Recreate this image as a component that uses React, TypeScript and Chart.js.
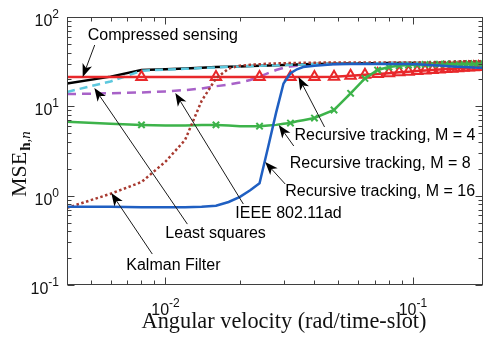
import React, { useEffect, useRef } from "react";
import { Chart, registerables } from "chart.js";
Chart.register(...registerables);

// Angular velocity (rad/time-slot)
const X = [0.004, 0.006, 0.008, 0.010, 0.012, 0.014, 0.016, 0.018, 0.020, 0.022, 0.024, 0.026, 0.028, 0.030, 0.032, 0.034, 0.036,
  0.040, 0.048, 0.056, 0.064, 0.072, 0.080, 0.088, 0.096, 0.104, 0.112, 0.120, 0.128, 0.136, 0.144, 0.152, 0.160, 0.168, 0.176, 0.184, 0.192];

const COMPRESSED = [18, 21.5, 25.5, 26, 26.5, 27, 27.5, 27.8, 28, 28.2, 28.5, 28.7, 28.9, 29.1, 29.3, 29.4, 29.5,
  29.7, 30, 30.2, 30.3, 30.4, 30.5, 30.5, 30.5, 30.5, 30.4, 30.3, 30.2, 30.1, 30, 29.9, 29.8, 29.7, 29.6, 29.5, 29.4];
const LEAST_SQUARES = [14.5, 19, 25, 25.8, 26.3, 26.8, 27.3, 27.7, 27.9, 28.1, 28.4, 28.6, 28.8, 29, 29.2, 29.3, 29.4,
  29.6, 29.9, 30.1, 30.2, 30.3, 30.4, 30.4, 30.4, 30.4, 30.3, 30.2, 30.1, 30, 29.9, 29.8, 29.7, 29.6, 29.5, 29.4, 29.3];
const IEEE = [13.7, 14.0, 14.3, 14.7, 15.2, 15.8, 16.8, 17.5, 18.5, 19.7, 21.5, 23.5, 25.5, 27, 28, 28.5, 29,
  29.4, 29.8, 30, 30.1, 30.2, 30.3, 30.3, 30.3, 30.3, 30.2, 30.1, 30, 29.9, 29.8, 29.7, 29.6, 29.5, 29.4, 29.3, 29.2];
const KALMAN = [0.73, 1.05, 1.42, 2.4, 4.2, 11.5, 20.5, 26.5, 28.5, 29.2, 29.6, 30, 30.2, 30.4, 30.5, 30.6, 30.7,
  30.8, 31, 31, 31, 31, 31, 31, 31, 31, 31, 31, 31.2, 31.4, 31.6, 31.8, 32, 32, 32, 32, 32];
const RT_M4 = [21.3, 21.3, 21.3, 21.3, 21.3, 21.3, 21.3, 21.3, 21.3, 21.3, 21.3, 21.3, 21.3, 21.3, 21.3, 21.3, 21.3,
  21.3, 21.5, 22, 22.5, 23, 23.5, 24, 24.4, 24.8, 25.2, 25.5, 25.8, 26.1, 26.4, 26.7, 27, 27.2, 27.4, 27.6, 27.8];
const RT_M8 = [6.7, 6.4, 6.2, 6.1, 6.1, 6.2, 6.2, 6.1, 6.0, 6.0, 6.0, 6.1, 6.2, 6.4, 6.5, 6.8, 7.0,
  7.4, 9.1, 14, 20.5, 25.5, 27.5, 28.5, 29, 29.3, 29.5, 29.6, 29.7, 29.8, 29.8, 29.9, 29.9, 30, 30, 30, 30];
const RT_M16 = [0.75, 0.75, 0.74, 0.74, 0.74, 0.75, 0.77, 0.85, 0.97, 1.15, 1.38, 3.5, 8.5, 18, 23.5, 26, 27.5,
  28.5, 29.5, 29.7, 29.8, 29.8, 29.8, 29.8, 29.7, 29.5, 29.2, 28.9, 28.6, 28.3, 28, 27.8, 27.6, 27.4, 27.2, 27.1, 27];

const MARKER_STEP = 0.008;

const X_TICKS = [0.01, 0.1];
const Y_TICKS = [0.1, 1, 10, 100];
const X_MIN = 0.004, X_MAX = 0.192, Y_MIN = 0.1, Y_MAX = 100;

const X_TITLE = "Angular velocity (rad/time-slot)";
const Y_TITLE = "MSE";
const Y_TITLE_SUB_BOLD = "h";
const Y_TITLE_SUB_REST = ",n";

const ANNOTATION_TEXT = ["Compressed sensing", "Least squares", "IEEE 802.11ad", "Kalman Filter",
  "Recursive tracking, M = 4", "Recursive tracking, M = 8", "Recursive tracking, M = 16"];
const ANNOTATION_TIP_X = [0.00463, 0.00516, 0.01096, 0.00604, 0.0345, 0.0287, 0.0253];
const ANNOTATION_TIP_Y = [21.3, 16.0, 14.1, 1.07, 21.3, 6.18, 2.38];
// layout: [text dx, text dy (center), line start dx, line start dy] relative to the arrow tip, in px
const ANNOTATION_LAYOUT = [[5, -42, 12, -32], [71, 144, 93, 136], [60, 119, 68, 111], [15, 71, 41, 61],
  [-4, 58, 26, 50], [11, 37, 15, 21], [20, 28, 20, 22]];

const SANS = "'Liberation Sans', Arial, Helvetica, sans-serif";
const SERIF = "'Liberation Serif', 'Times New Roman', serif";

function isMarker(i: number) {
  const v = X[i] / MARKER_STEP;
  return Math.abs(v - Math.round(v)) < 1e-6;
}

const decorations = {
  id: "decorations",
  afterDatasetsDraw(chart: any) {
    const { ctx, chartArea: a, scales } = chart;
    const xs = scales.x, ys = scales.y;
    ctx.save();
    // frame
    const L = Math.round(a.left) + 0.5, R = Math.round(a.right) - 0.5, T = Math.round(a.top) + 0.5, B = Math.round(a.bottom) - 0.5;
    ctx.strokeStyle = "#3f3f3f";
    ctx.lineWidth = 1;
    ctx.strokeRect(L, T, R - L, B - T);
    // ticks
    ctx.beginPath();
    for (let d = -4; d <= 0; d++) {
      for (let m = 1; m <= 9; m++) {
        const v = m * Math.pow(10, d);
        const len = m === 1 ? 7 : 4;
        if (v >= X_MIN * 0.999 && v <= X_MAX * 1.001) {
          const px = Math.round(xs.getPixelForValue(v)) + 0.5;
          ctx.moveTo(px, B); ctx.lineTo(px, B - len);
          ctx.moveTo(px, T); ctx.lineTo(px, T + len);
        }
      }
    }
    for (let d = -1; d <= 2; d++) {
      for (let m = 1; m <= 9; m++) {
        const v = m * Math.pow(10, d);
        if (v > Y_MAX * 1.001) continue;
        const len = m === 1 ? 7 : 4;
        const py = Math.round(ys.getPixelForValue(v)) + 0.5;
        ctx.moveTo(L, py); ctx.lineTo(L + len, py);
        ctx.moveTo(R, py); ctx.lineTo(R - len, py);
      }
    }
    ctx.stroke();

    // tick labels
    ctx.fillStyle = "#111";
    const baseFont = "16px " + SANS, expFont = "12px " + SANS;
    Y_TICKS.forEach((v) => {
      const e = String(Math.round(Math.log10(v)));
      const py = ys.getPixelForValue(v);
      ctx.font = expFont;
      const we = ctx.measureText(e).width;
      const right = a.left - 8;
      ctx.textAlign = "left";
      ctx.textBaseline = "alphabetic";
      ctx.fillText(e, right - we, py + 1);
      ctx.font = baseFont;
      const wb = ctx.measureText("10").width;
      ctx.fillText("10", right - we - wb, py + 9);
    });
    X_TICKS.forEach((v) => {
      const e = String(Math.round(Math.log10(v)));
      const px = xs.getPixelForValue(v);
      ctx.font = expFont;
      const we = ctx.measureText(e).width;
      ctx.font = baseFont;
      const wb = ctx.measureText("10").width;
      const start = px - (wb + we) / 2;
      ctx.textAlign = "left";
      ctx.fillText("10", start, a.bottom + 30);
      ctx.font = expFont;
      ctx.fillText(e, start + wb, a.bottom + 22);
    });

    // x title
    ctx.font = "22px " + SERIF;
    const tw = ctx.measureText(X_TITLE).width;
    const size = 22 * 285 / tw;
    ctx.font = size.toFixed(2) + "px " + SERIF;
    ctx.textAlign = "center";
    ctx.fillText(X_TITLE, 284, 328);

    // y title
    ctx.save();
    ctx.translate(26, 197);
    ctx.rotate(-Math.PI / 2);
    ctx.textAlign = "left";
    ctx.font = "22px " + SERIF;
    ctx.fillText(Y_TITLE, 0, 0);
    let w = ctx.measureText(Y_TITLE).width + 1;
    ctx.font = "bold 15px " + SERIF;
    ctx.fillText(Y_TITLE_SUB_BOLD, w, 4);
    w += ctx.measureText(Y_TITLE_SUB_BOLD).width;
    ctx.font = "italic 15px " + SERIF;
    ctx.fillText(Y_TITLE_SUB_REST, w, 4);
    ctx.restore();

    // annotations
    ctx.font = "16px " + SANS;
    ctx.textAlign = "left";
    ctx.strokeStyle = "#1a1a1a";
    ctx.fillStyle = "#000";
    ANNOTATION_TEXT.forEach((t, i) => {
      const tx = xs.getPixelForValue(ANNOTATION_TIP_X[i]);
      const ty = ys.getPixelForValue(ANNOTATION_TIP_Y[i]);
      const [dx, dy, lx, ly] = ANNOTATION_LAYOUT[i];
      const sx = tx + lx, sy = ty + ly;
      const ang = Math.atan2(ty - sy, tx - sx);
      const c = Math.cos(ang), s = Math.sin(ang);
      const HL = 13, HW = 5, N = 3.5;
      ctx.lineWidth = 1;
      ctx.beginPath();
      ctx.moveTo(sx, sy);
      ctx.lineTo(tx - (HL - N) * c, ty - (HL - N) * s);
      ctx.stroke();
      ctx.beginPath();
      ctx.moveTo(tx, ty);
      ctx.lineTo(tx - HL * c + HW * s, ty - HL * s - HW * c);
      ctx.lineTo(tx - (HL - N) * c, ty - (HL - N) * s);
      ctx.lineTo(tx - HL * c - HW * s, ty - HL * s + HW * c);
      ctx.closePath();
      ctx.fill();
      ctx.fillText(t, tx + dx, ty + dy + 5.5);
    });
    ctx.restore();
  },
};

export default function App() {
  const ref = useRef<HTMLCanvasElement>(null);
  useEffect(() => {
    const canvas = ref.current!;
    const mk = (label: string, ys: number[], color: string, extra: any) => ({
      label,
      data: X.map((x, i) => ({ x, y: ys[i] })),
      borderColor: color,
      backgroundColor: color,
      borderWidth: 2.5,
      pointRadius: 0,
      showLine: true,
      tension: 0,
      ...extra,
    });
    const datasets = [
      mk("Recursive tracking, M = 16", RT_M16, "#1f5fc2", {}),
      mk("Kalman Filter", KALMAN, "#a83a30", { borderDash: [2.5, 2.5] }),
      mk("Recursive tracking, M = 8", RT_M8, "#3db34a", {
        pointStyle: "crossRot",
        pointRadius: (c: any) => (isMarker(c.dataIndex) ? 4.5 : 0),
        pointBorderWidth: 2,
      }),
      mk("Recursive tracking, M = 4", RT_M4, "#e8282b", {
        pointStyle: "triangle",
        pointRadius: (c: any) => (isMarker(c.dataIndex) ? 6 : 0),
        pointBackgroundColor: "rgba(255,255,255,0)",
        pointBorderWidth: 2,
      }),
      mk("Least squares", LEAST_SQUARES, "#5cc8de", { borderDash: [8, 5] }),
      mk("Compressed sensing", COMPRESSED, "#000000", {}),
      mk("IEEE 802.11ad", IEEE, "#a862c8", { borderDash: [9, 6] }),
    ];
    const chart = new Chart(canvas, {
      type: "scatter",
      data: { datasets } as any,
      options: {
        responsive: false,
        animation: false,
        devicePixelRatio: 1,
        layout: { padding: { left: 67, top: 17, right: 2, bottom: 55 } },
        scales: {
          x: { type: "logarithmic", min: X_MIN, max: X_MAX, display: false },
          y: { type: "logarithmic", min: Y_MIN, max: Y_MAX, display: false },
        },
        plugins: { legend: { display: false }, tooltip: { enabled: false } },
        events: [],
      } as any,
      plugins: [decorations],
    });
    return () => chart.destroy();
  }, []);
  return (
    <div style={{ position: "fixed", left: 0, top: 0, width: 491, height: 340, background: "#fff" }}>
      <canvas ref={ref} width={491} height={340} style={{ display: "block" }} />
    </div>
  );
}
